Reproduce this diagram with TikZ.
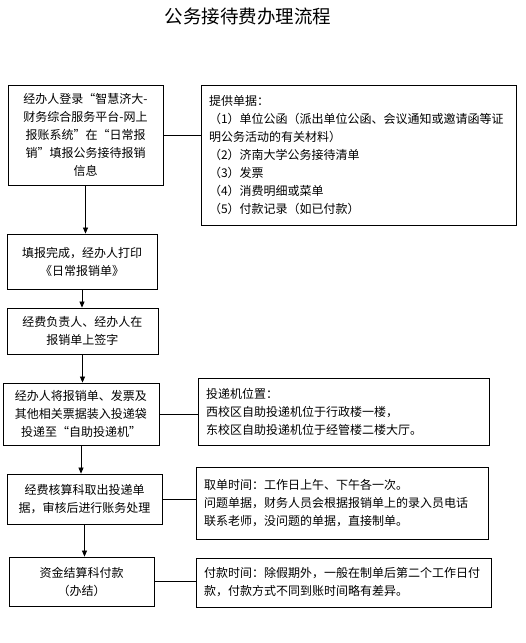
\documentclass[tikz,border=0pt]{standalone}
\usepackage{fontspec}
\setmainfont{Noto Sans CJK SC}
\usetikzlibrary{arrows.meta,positioning}

\begin{document}
\begin{tikzpicture}[
  x=1pt, y=-1pt, >={Triangle[length=6pt,width=5pt]},
  proc/.style={draw, line width=0.8pt, align=center, inner sep=0pt, font=\fontsize{12}{18}\selectfont},
  note/.style={draw, line width=0.8pt, align=left, inner ysep=0pt, inner xsep=8pt, font=\fontsize{12}{18}\selectfont},
  flow/.style={draw, ->, line width=0.7pt},
  link/.style={draw, line width=0.7pt}
]
\useasboundingbox (0,0) rectangle (526,643);
\node[font=\fontsize{18.5}{20}\selectfont] (title) at (248,16) {公务接待费办理流程};
% main steps
\node[proc, minimum width=155pt, minimum height=100pt] (login) at (85.5,135)
  {经办人登录“智慧济大-\\财务综合服务平台-网上\\报账系统”在“日常报\\销”填报公务接待报销\\信息};
\node[proc, minimum width=150pt, minimum height=55pt] (print) at (82,261.5)
  {填报完成，经办人打印\\《日常报销单》};
\node[proc, minimum width=151pt, minimum height=46pt] (sign) at (82.5,331)
  {经费负责人、经办人在\\报销单上签字};
\node[proc, minimum width=156pt, minimum height=62pt] (deliver) at (81,414)
  {经办人将报销单、发票及\\其他相关票据装入投递袋\\投递至“自助投递机”};
\node[proc, minimum width=155pt, minimum height=50pt] (audit) at (84.5,499)
  {经费核算科取出投递单\\据，审核后进行账务处理};
\node[proc, minimum width=145pt, minimum height=49pt] (pay) at (81.5,581.5)
  {资金结算科付款\\（办结）};
% notes
\node[note, text width=299pt, minimum height=140pt] (docs) at (358.5,155)
  {提供单据：\\（1）单位公函（派出单位公函、会议通知或邀请函等证\\明公务活动的有关材料）\\（2）济南大学公务接待清单\\（3）发票\\（4）消费明细或菜单\\（5）付款记录（如已付款）};
\node[note, text width=275pt, minimum height=67pt] (place) at (343.5,411.5)
  {投递机位置：\\西校区自助投递机位于行政楼一楼，\\东校区自助投递机位于经管楼二楼大厅。};
\node[note, text width=276pt, minimum height=72pt] (fetch) at (342,503)
  {取单时间：工作日上午、下午各一次。\\问题单据，财务人员会根据报销单上的录入员电话\\联系老师，没问题的单据，直接制单。};
\node[note, text width=279pt, minimum height=49pt] (paytime) at (343.5,582.5)
  {付款时间：除假期外，一般在制单后第二个工作日付\\款，付款方式不同到账时间略有差异。};
% arrows
\draw[flow] (login.south) -- (login.south |- print.north);
\draw[flow] (print.south) -- (print.south |- sign.north);
\draw[flow] (sign.south) -- (sign.south |- deliver.north);
\draw[flow] (deliver.south) -- (deliver.south |- audit.north);
\draw[flow] (audit.south) -- (audit.south |- pay.north);
% links to notes
\draw[link] (login.east) -- (login.east -| docs.west);
\draw[link] (deliver.east) -- (deliver.east -| place.west);
\draw[link] (audit.east) -- (audit.east -| fetch.west);
\draw[link] (pay.east) -- (pay.east -| paytime.west);
\end{tikzpicture}
\end{document}
